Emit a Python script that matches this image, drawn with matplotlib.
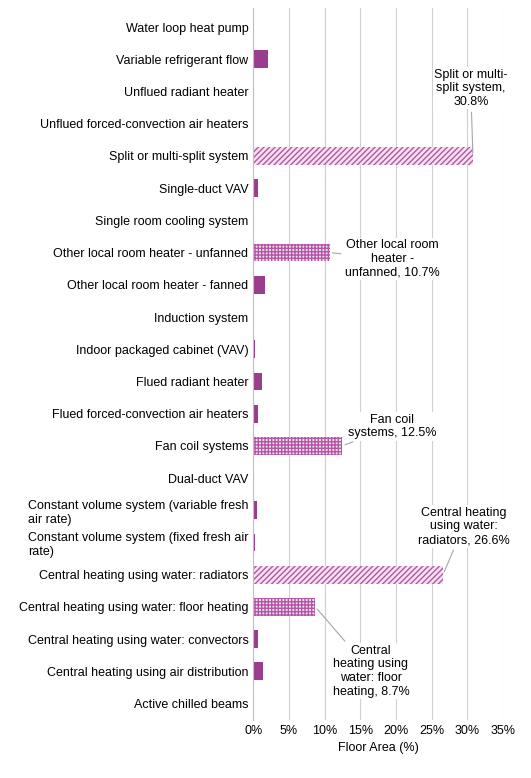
import matplotlib
matplotlib.use("Agg")
import matplotlib.pyplot as plt
import numpy as np

categories = ["Water loop heat pump","Variable refrigerant flow","Unflued radiant heater",
 "Unflued forced-convection air heaters","Split or multi-split system","Single-duct VAV",
 "Single room cooling system","Other local room heater - unfanned","Other local room heater - fanned",
 "Induction system","Indoor packaged cabinet (VAV)","Flued radiant heater",
 "Flued forced-convection air heaters","Fan coil systems","Dual-duct VAV",
 "Constant volume system (variable fresh\nair rate)","Constant volume system (fixed fresh air\nrate)",
 "Central heating using water: radiators","Central heating using water: floor heating",
 "Central heating using water: convectors","Central heating using air distribution","Active chilled beams"]
values = [0,2.0,0,0,30.8,0.6,0,10.7,1.7,0,0.3,1.2,0.6,12.5,0,0.5,0.2,26.6,8.7,0.6,1.4,0]
hatched = {4:"//////",7:"+++++",13:"+++++",17:"//////",18:"+++++"}

plt.rcParams['hatch.linewidth'] = 1.0
fig, ax = plt.subplots(figsize=(5.31,7.78), dpi=100)
fig.subplots_adjust(left=0.477, right=0.947, top=0.99, bottom=0.075)
y = np.arange(len(categories))
col = "#9B3D8E"
for i,(v) in enumerate(values):
    if i in hatched:
        ax.barh(i, v, height=0.55, color="#F3E3F0", edgecolor="#B555A5", hatch=hatched[i], linewidth=0)
    else:
        ax.barh(i, v, height=0.55, color=col)
ax.set_yticks(y)
ax.set_yticklabels(categories, fontsize=9, family="Liberation Sans")
for t in ax.get_yticklabels():
    t.set_multialignment("left")
ax.invert_yaxis()
ax.set_ylim(len(categories)-0.5, -0.6)
ax.set_xlim(0,35)
ax.set_xticks(range(0,36,5))
ax.set_xticklabels([f"{t}%" for t in range(0,36,5)], fontsize=9, family="Liberation Sans")
ax.set_xlabel("Floor Area (%)", fontsize=9, family="Liberation Sans")
ax.xaxis.grid(True, color="#D0D0D0", linewidth=0.8)
ax.set_axisbelow(True)
for s in ["top","right","bottom"]:
    ax.spines[s].set_visible(False)
ax.spines["left"].set_color("#BFBFBF")
ax.tick_params(length=0)
ann = [(4,"Split or multi-\nsplit system,\n30.8%",(30.5,1.9)),
       (7,"Other local room\nheater -\nunfanned, 10.7%",(19.5,7.2)),
       (13,"Fan coil\nsystems, 12.5%",(19.5,12.4)),
       (17,"Central heating\nusing water:\nradiators, 26.6%",(29.5,15.5)),
       (18,"Central\nheating using\nwater: floor\nheating, 8.7%",(16.5,20.0))]
for i,txt,(tx,ty) in ann:
    ax.annotate(txt, xy=(values[i], i), xytext=(tx,ty), ha="center", va="center",
                fontsize=9, family="Liberation Sans",
                arrowprops=dict(arrowstyle="-", color="#A6A6A6", lw=0.8),
                bbox=dict(facecolor="white", edgecolor="none", pad=1))
fig.savefig("out.png")
